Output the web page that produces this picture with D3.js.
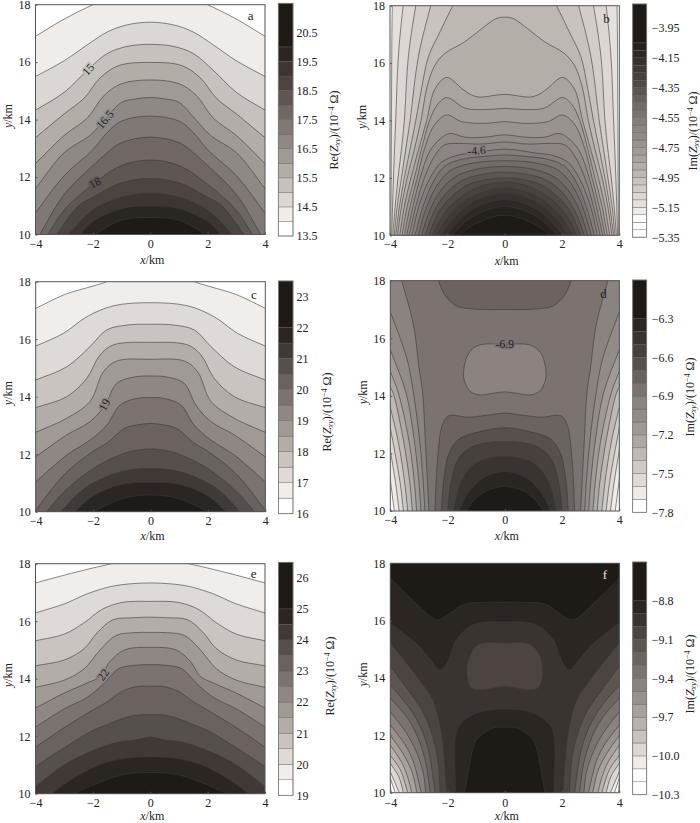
<!DOCTYPE html>
<html><head><meta charset="utf-8">
<script src="https://cdn.jsdelivr.net/npm/d3@7"></script>
<style>
html,body{margin:0;padding:0;background:#fff}
svg{display:block}
text{font-family:"Liberation Serif",serif;font-size:12px;fill:#222}
</style></head><body><svg id="c" width="700" height="823"></svg>
<script>
// ---------- axes ----------
const xTicks=[-4,-2,0,2,4];
const yTicks=[10,12,14,16,18];
// ---------- colour-bar levels and ticks ----------
const levelsA=[14,14.5,15,15.5,16,16.5,17,17.5,18,18.5,19,19.5,20];
const levelsB=[-5.3,-5.25,-5.2,-5.15,-5.1,-5.05,-5,-4.95,-4.9,-4.85,-4.8,-4.75,-4.7,-4.65,-4.6,-4.55,-4.5,-4.45,-4.4,-4.35,-4.3,-4.25,-4.2,-4.15,-4.1,-4.05];
const levelsC=[16.5,17,17.5,18,18.5,19,19.5,20,20.5,21,21.5,22];
const levelsD=[-7.7,-7.6,-7.5,-7.4,-7.3,-7.2,-7.1,-7,-6.9,-6.8,-6.7,-6.6,-6.5,-6.4,-6.3];
const levelsE=[19.5,20,20.5,21,21.5,22,22.5,23,23.5,24,24.5,25];
const levelsF=[-10.2,-10.1,-10,-9.9,-9.8,-9.7,-9.6,-9.5,-9.4,-9.3,-9.2,-9.1,-9,-8.9,-8.8];
const ticksA=[13.5,14.5,15.5,16.5,17.5,18.5,19.5,20.5];
const ticksB=[-5.35,-5.15,-4.95,-4.75,-4.55,-4.35,-4.15,-3.95];
const ticksC=[16,17,18,19,20,21,22,23];
const ticksD=[-7.8,-7.5,-7.2,-6.9,-6.6,-6.3];
const ticksE=[19,20,21,22,23,24,25,26];
const ticksF=[-10.3,-10,-9.7,-9.4,-9.1,-8.8];
// ---------- band greys, lightest to darkest ----------
const palA=["#ffffff","#efecea","#dcd7d4","#c6c1bc","#b3ada8","#a09a95","#8f8985","#7f7875","#6e6763","#5e5651","#4b4440","#3c3532","#2b2622","#1e1a16"];
const palC=["#ffffff","#f0edeb","#dfdad7","#c9c4bf","#b3ada8","#a09a95","#8e8783","#7a7370","#69625e","#55504b","#403936","#2b2622","#1e1a16"];
const palD=["#ffffff","#eeeae8","#dfdad7","#cfcac6","#bfb9b4","#aea8a3","#a09a95","#928b87","#8a8380","#7a7370","#6a635f","#57504b","#47403c","#3a3431","#2b2622","#1e1a16"];
const palF=["#ffffff","#ffffff","#eeebe8","#dcd7d4","#c8c3be","#b8b2ad","#a8a29d","#98918d","#89827e","#7a7370","#6b6460","#5c5550","#4b4440","#3a3431","#2b2622","#1e1a16"];
// ---------- contour lines: [band level, closure, left-half points [x km, y km]] ----------
const curvesA=[
[14,"b",[[-4,16.9],[-3,17.5],[-2,18],[-1,18.4],[0,18.6]]],
[14.5,"b",[[-4,15.5],[-3,16.05],[-2.2,16.6],[-1.5,17.05],[-.8,17.3],[0,17.39]]],
[15,"b",[[-4,14.33],[-3,14.95],[-2.16,15.75],[-1.5,16.3],[-.8,16.55],[0,16.62]]],
[15.5,"b",[[-4,13.37],[-3,14.2],[-2.3,14.75],[-1.75,15.45],[-1.1,15.88],[0,15.99]]],
[16,"b",[[-4,12.47],[-3,13.45],[-2.2,14.05],[-1.6,14.85],[-1,15.25],[0,15.38]]],
[16.5,"b",[[-4,11.6],[-3,12.85],[-2.1,13.45],[-1.58,14],[-1,14.6],[-.5,14.72],[0,14.77]]],
[17,"b",[[-4,10.75],[-3,12.05],[-2,12.95],[-1.5,13.55],[-1,13.95],[0,14.12]]],
[17.5,"b",[[-3.85,10],[-3,11.4],[-2,12.4],[-1.5,12.85],[-1,13.2],[0,13.39]]],
[18,"b",[[-3.56,10],[-3,10.85],[-2,11.75],[-1,12.4],[0,12.59]]],
[18.5,"b",[[-3.27,10],[-2.5,11],[-2,11.3],[-1,11.8],[0,11.95]]],
[19,"b",[[-2.86,10],[-2,10.85],[-1,11.3],[0,11.43]]],
[19.5,"b",[[-2.45,10],[-2,10.45],[-1,10.9],[0,10.99]]],
[20,"b",[[-1.93,10],[-1,10.5],[0,10.59]]]];
const curvesB=[
[-5.15,"b",[[-3.97,10],[-3.95,14],[-3.92,18],[-3.88,19],[0,19.5]]],
[-5.1,"b",[[-3.94,10],[-3.88,12],[-3.8,14],[-3.71,16.22],[-3.54,18],[-3.4,19],[0,19.5]]],
[-5.05,"b",[[-3.9,10],[-3.82,11],[-3.72,12],[-3.6,13],[-3.5,14],[-3.36,16.22],[-3.1,18],[-2.9,19],[0,19.5]]],
[-5,"b",[[-3.85,10],[-3.75,11],[-3.6,12],[-3.45,13],[-3.3,14],[-3.01,16.22],[-2.58,18],[-2.3,19],[0,19.5]]],
[-4.95,"b",[[-3.8,10],[-3.67,11],[-3.5,12],[-3.3,13],[-3.1,14],[-2.9,15.1],[-2.66,16.22],[-2.25,17.1],[-1.81,18],[-1.5,18.6],[0,19.2]]],
[-4.9,"b",[[-3.74,10],[-3.6,11],[-3.4,12],[-3.15,13],[-2.92,14],[-2.7,15.2],[-2.43,15.93],[-2.08,16.34],[-1.38,16.75],[-.8,17.2],[-.3,17.55],[0,17.6]]],
[-4.85,"b",[[-3.66,10],[-3.5,11],[-3.27,12],[-3,13],[-2.72,14],[-2.43,15.1],[-2.02,15.5],[-1.5,15.12],[-1.27,14.95],[-.92,14.82],[0,14.91]]],
[-4.8,"b",[[-3.58,10],[-3.4,11],[-3.15,12],[-2.9,13],[-2.62,14],[-2.35,14.55],[-2.02,14.8],[-1.38,14.43],[-.7,14.38],[0,14.42]]],
[-4.75,"b",[[-3.5,10],[-3.3,11],[-3.05,12],[-2.8,13],[-2.45,13.85],[-2.02,14.19],[-1.5,13.96],[-.7,13.9],[0,13.96]]],
[-4.7,"b",[[-3.42,10],[-3.2,11],[-2.95,12],[-2.6,12.95],[-2.2,13.4],[-1.9,13.55],[-1.4,13.42],[-.7,13.42],[0,13.5]]],
[-4.65,"b",[[-3.33,10],[-3.1,11],[-2.8,12],[-2.45,12.75],[-2.1,13.15],[-1.6,13.2],[-.8,13.18],[0,13.25]]],
[-4.6,"b",[[-3.23,10],[-3,11],[-2.6,12],[-2.2,12.55],[-1.6,12.8],[-1.2,12.85],[0,13]]],
[-4.55,"b",[[-3.13,10],[-2.85,11],[-2.5,11.85],[-2.1,12.4],[-1.5,12.65],[-.7,12.75],[0,12.8]]],
[-4.5,"b",[[-3.02,10],[-2.72,11],[-2.35,11.75],[-1.9,12.25],[-1.2,12.5],[0,12.6]]],
[-4.45,"b",[[-2.9,10],[-2.6,10.9],[-2.2,11.6],[-1.7,12.05],[-1,12.3],[0,12.4]]],
[-4.4,"b",[[-2.78,10],[-2.45,10.85],[-2.05,11.45],[-1.5,11.9],[-.8,12.12],[0,12.2]]],
[-4.35,"b",[[-2.65,10],[-2.3,10.8],[-1.9,11.3],[-1.3,11.75],[-.6,11.95],[0,12]]],
[-4.3,"b",[[-2.52,10],[-2.15,10.7],[-1.7,11.2],[-1.1,11.6],[-.5,11.8],[0,11.85]]],
[-4.25,"b",[[-2.38,10],[-2,10.6],[-1.5,11.1],[-1,11.42],[-.4,11.6],[0,11.65]]],
[-4.2,"b",[[-2.22,10],[-1.85,10.5],[-1.35,10.98],[-.8,11.3],[0,11.45]]],
[-4.15,"b",[[-2.05,10],[-1.65,10.45],[-1.2,10.85],[-.7,11.1],[0,11.25]]],
[-4.1,"b",[[-1.85,10],[-1.45,10.4],[-1,10.72],[-.5,10.92],[0,11]]],
[-4.05,"b",[[-1.56,10],[-1.2,10.3],[-.8,10.5],[-.3,10.67],[0,10.7]]]];
const curvesC=[
[16.5,"b",[[-4,17.07],[-3,17.55],[-2,17.85],[-1.53,18],[-1,18.25],[0,18.4]]],
[17,"b",[[-4,15.76],[-3.04,16.2],[-2.22,16.78],[-1.3,17.16],[0,17.27]]],
[17.5,"b",[[-4,14.58],[-2.92,15.04],[-2.11,15.74],[-1.53,16.32],[-.83,16.49],[0,16.52]]],
[18,"b",[[-4,13.62],[-2.92,14],[-2.22,14.64],[-1.76,15.45],[-1.3,15.8],[0,15.89]]],
[18.5,"b",[[-4,12.76],[-2.92,13.25],[-2.11,13.83],[-1.64,14.87],[-1.18,15.24],[0,15.3]]],
[19,"b",[[-4,11.91],[-2.92,12.67],[-2.11,13.13],[-1.58,13.71],[-1.18,14.46],[-.6,14.68],[0,14.72]]],
[19.5,"b",[[-4,11.04],[-2.92,11.97],[-2.11,12.49],[-1.53,13],[-1.06,13.71],[-.48,13.94],[0,13.97]]],
[20,"b",[[-4,10.05],[-3,11.3],[-2,12.1],[-1.5,12.4],[-.9,12.9],[-.4,13.03],[0,13.07]]],
[20.5,"b",[[-3.62,10],[-3,10.7],[-2,11.5],[-1,12],[-.4,12.15],[0,12.18]]],
[21,"b",[[-3.12,10],[-2.5,10.65],[-2,11],[-1,11.4],[0,11.5]]],
[21.5,"b",[[-2.63,10],[-2,10.55],[-1,10.95],[0,11.02]]],
[22,"b",[[-1.99,10],[-1,10.45],[0,10.58]]]];
const curvesD=[
[-7.7,"b",[[-3.86,10],[-4,11.1]]],
[-7.6,"b",[[-3.69,10],[-3.82,11],[-4,12.1]]],
[-7.5,"b",[[-3.54,10],[-3.66,11],[-4,12.9]]],
[-7.4,"b",[[-3.39,10],[-3.5,11],[-3.72,12.4],[-4,13.6]]],
[-7.3,"b",[[-3.23,10],[-3.32,11],[-3.55,12.5],[-3.9,14.1],[-4,14.3]]],
[-7.2,"b",[[-3.08,10],[-3.16,11],[-3.36,12.5],[-3.72,14.1],[-4,14.85]]],
[-7.1,"b",[[-2.93,10],[-3,11],[-3.17,12.5],[-3.45,14.1],[-4,15.6]]],
[-7,"b",[[-2.79,10],[-2.85,11],[-2.98,12.5],[-3.19,14.1],[-3.42,15.3],[-4,16.92]]],
[-6.9,"b",[[-2.65,10],[-2.7,11],[-2.78,12.5],[-2.87,14.1],[-3,15],[-3.19,16.46],[-3.6,18]]],
[-6.8,"b",[[-2.44,10],[-2.4,11],[-2.32,12.12],[-2.2,12.93],[-1.97,13.3],[-1.27,13.26],[-.6,13.33],[0,13.4]]],
[-6.7,"b",[[-2.22,10],[-2.14,11],[-1.95,12],[-1.6,12.5],[-.9,12.75],[0,12.89]]],
[-6.6,"b",[[-2,10],[-1.88,11],[-1.6,11.85],[-1.1,12.25],[-.5,12.38],[0,12.41]]],
[-6.5,"b",[[-1.8,10],[-1.55,10.95],[-1.15,11.55],[-.6,11.82],[0,11.89]]],
[-6.4,"b",[[-1.6,10],[-1.3,10.6],[-.8,11.12],[-.3,11.33],[0,11.37]]],
[-6.3,"b",[[-1.35,10],[-1.05,10.4],[-.6,10.72],[0,10.85]]],
[-6.8,"t",[[-2.32,18],[-2.09,17.5],[-1.68,17.12],[-.98,17.01],[0,17]]],
[-7,"o",[[0,14.14],[-.4,14.09],[-.87,14.03],[-1.2,14.15],[-1.42,14.55],[-1.42,15],[-1.25,15.5],[-.9,15.76],[0,15.79]]]];
const curvesE=[
[19.5,"b",[[-4,17.33],[-3,17.6],[-2,17.85],[-1.35,18],[-.7,18.15],[0,18.2]]],
[20,"b",[[-4,16.29],[-3,16.6],[-2.2,16.95],[-1.4,17.2],[-.7,17.3],[0,17.33]]],
[20.5,"b",[[-4,15.32],[-3,15.55],[-2.3,15.95],[-1.7,16.4],[-1,16.65],[0,16.69]]],
[21,"b",[[-4,14.45],[-3,14.65],[-2.3,15.05],[-1.85,15.6],[-1.3,16.05],[-.6,16.12],[0,16.14]]],
[21.5,"b",[[-4,13.7],[-3,13.95],[-2.3,14.35],[-1.75,15],[-1.2,15.5],[-.6,15.6],[0,15.61]]],
[22,"b",[[-4,12.98],[-3,13.5],[-2.2,13.85],[-1.75,14.08],[-1.4,14.6],[-.9,15],[0,15.09]]],
[22.5,"b",[[-4,12.32],[-3,12.95],[-2.2,13.35],[-1.6,13.85],[-1.1,14.35],[-.5,14.47],[0,14.49]]],
[23,"b",[[-4,11.62],[-3,12.3],[-2.1,12.85],[-1.5,13.2],[-1,13.55],[-.5,13.72],[0,13.74]]],
[23.5,"b",[[-4,10.95],[-3,11.6],[-2,12.2],[-1.5,12.4],[-1,12.6],[-.5,12.73],[0,12.75]]],
[24,"b",[[-4,10.25],[-3,11],[-2,11.5],[-1.1,11.8],[-.5,11.87],[0,11.97]]],
[24.5,"b",[[-3.44,10],[-2.5,10.65],[-1.5,11.1],[-.7,11.25],[0,11.28]]],
[25,"b",[[-2.68,10],[-2,10.3],[-1,10.65],[0,10.74]]]];
const curvesF=[
[-10.2,"b",[[-3.97,10],[-4,10.27]]],
[-10.1,"b",[[-3.83,10],[-4,10.5]]],
[-10,"b",[[-3.69,10],[-4,10.73]]],
[-9.9,"b",[[-3.54,10],[-3.7,10.55],[-4,11.03]]],
[-9.8,"b",[[-3.39,10],[-3.65,10.8],[-4,11.3]]],
[-9.7,"b",[[-3.25,10],[-3.38,10.5],[-3.6,11.05],[-4,11.66]]],
[-9.6,"b",[[-3.07,10],[-3.25,10.75],[-3.55,11.35],[-4,12]]],
[-9.5,"b",[[-2.92,10],[-3.2,11.1],[-3.5,11.7],[-4,12.36]]],
[-9.4,"b",[[-2.76,10],[-2.85,10.7],[-3.1,11.45],[-3.45,12.1],[-4,12.82]]],
[-9.3,"b",[[-2.61,10],[-2.75,11],[-3.05,11.95],[-3.4,12.6],[-4,13.3]]],
[-9.2,"b",[[-2.44,10],[-2.65,11.4],[-2.95,12.3],[-3.4,13.05],[-4,13.75]]],
[-9.1,"b",[[-2.26,10],[-2.32,11],[-2.5,11.9],[-2.85,12.8],[-3.4,13.6],[-4,14.41]]],
[-9,"b",[[-2.03,10],[-2.1,11],[-2.2,12],[-2.5,13.2],[-3.08,14.06],[-4,15.22]]],
[-8.9,"t",[[-4,15.92],[-3.08,15.2],[-2.6,14.65],[-2.27,14.29],[-2.03,14.52],[-1.69,15.34],[-1.22,15.8],[-.76,15.94],[0,15.95]]],
[-8.9,"b",[[-1.72,10],[-1.7,12.08],[-1.51,12.43],[-.99,12.78],[0,12.92]]],
[-8.8,"t",[[-4,17.49],[-3.2,16.7],[-2.38,16.03],[-2,16.2],[-1.45,16.56],[-.76,16.64],[0,16.64]]],
[-8.8,"b",[[-1.4,10],[-1.05,11.73],[-.87,11.97],[-.41,12.26],[0,12.28]]],
[-9.1,"o",[[0,13.71],[-.76,13.59],[-1.16,13.65],[-1.31,14],[-1.27,14.65],[-1.05,15.05],[-.76,15.22],[0,15.22]]]];
// ---------- contour labels ----------
const labelsA=[["15",-2.16,15.75,-48,15],["16.5",-1.58,14,-50,16.5],["18",-1.93,11.8,-28,18]];
const labelsB=[["-4.6",-.98,12.95,-5,-4.6]];
const labelsC=[["19",-1.6,13.72,-62,19]];
const labelsD=[["-6.9",0,15.79,0,-6.9]];
const labelsE=[["22",-1.64,14.14,-55,22]];
const labelsF=[];
// ---------- pieces ----------
const rampB=d3.piecewise(d3.interpolateRgb,palD.slice(1));
const palB=[...levelsB,0].map((_,i)=>i<3?"#ffffff":rampB((i-3)/23));
const panels=[
{id:"a",levels:levelsA,pal:palA,curves:curvesA,labels:labelsA,ticks:ticksA,top:21.5,box:[35.5,265,4.7,234.5],bar:[278.3,293,3.3,236],name:"Re",barLab:[334,130],letter:[3.5,17.62],fmt:".1f",xOff:29.5,tickPad:4.5,letterFill:"#222"},
{id:"b",levels:levelsB,pal:palB,curves:curvesB,labels:labelsB,ticks:ticksB,top:-3.79,box:[390,619.3,5.7,235.3],bar:[632.7,646.7,4,237.2],name:"Im",barLab:[693,131],letter:[3.55,17.55],fmt:".2f",xOff:29.5,tickPad:4.5,letterFill:"#222"},
{id:"c",levels:levelsC,pal:palC,curves:curvesC,labels:labelsC,ticks:ticksC,top:23.5,box:[35.7,265.3,281.7,511.7],bar:[278.5,293,281,513.7],name:"Re",barLab:[327,412],letter:[3.6,17.55],fmt:"d",xOff:28.5,tickPad:4.5,letterFill:"#222"},
{id:"d",levels:levelsD,pal:palD,curves:curvesD,labels:labelsD,ticks:ticksD,top:-6,box:[390.3,619.3,280.7,511],bar:[632.7,646.7,280,512.3],name:"Im",barLab:[690,397],letter:[3.45,17.55],fmt:".1f",xOff:28.5,tickPad:4.5,letterFill:"#222"},
{id:"e",levels:levelsE,pal:palC,curves:curvesE,labels:labelsE,ticks:ticksE,top:26.5,box:[35.5,265,563.7,793.7],bar:[278.5,293,562.3,795.3],name:"Re",barLab:[330,676],letter:[3.6,17.65],fmt:"d",xOff:26.5,tickPad:4.5,letterFill:"#222"},
{id:"f",levels:levelsF,pal:palF,curves:curvesF,labels:labelsF,ticks:ticksF,top:-8.5,box:[390.3,619.3,563.3,792.7],bar:[632.7,646.7,562,794.7],name:"Im",barLab:[690,674],letter:[3.5,17.6],fmt:".1f",xOff:27.5,tickPad:5.5,letterFill:"#e8e6e3"}];

const svg=d3.select("#c");
const minus=s=>s.replace("-","\u2212");
const textStyle=sel=>sel.style("font-family",'"Liberation Serif",serif').style("font-size","12px").style("fill","#222");
panels.forEach(p=>{
 const [L,R,T,B]=p.box;
 const x=d3.scaleLinear().domain([-4,4]).range([L,R]);
 const y=d3.scaleLinear().domain([10,18]).range([B,T]);
 const g=svg.append("g");
 g.append("clipPath").attr("id","clip"+p.id).append("rect").attr("x",L).attr("y",T).attr("width",R-L).attr("height",B-T);
 const plot=g.append("g").attr("clip-path",`url(#clip${p.id})`);
 plot.append("rect").attr("x",L).attr("y",T).attr("width",R-L).attr("height",B-T).attr("fill",p.pal[0]);
 const line=d3.line().x(d=>x(d[0])).y(d=>y(d[1])).curve(d3.curveCatmullRom.alpha(.5));
 const closedLine=d3.line().x(d=>x(d[0])).y(d=>y(d[1])).curve(d3.curveCatmullRomClosed.alpha(.5));
 const pt=(a,b)=>`${x(a)},${y(b)}`;
 const mir=a=>a.map(d=>[-d[0],d[1]]);
 const ext=(a,b)=>[a[0]+(a[0]-b[0])*.6,a[1]+(a[1]-b[1])*.6];
 const bandOf=v=>p.pal[p.levels.findIndex(l=>Math.abs(l-v)<1e-6)+1];
 p.curves.forEach(([lv,kind,pts])=>{
  let d;
  if(kind==="o"){
    d=closedLine(pts.concat(mir(pts.slice(1,-1)).reverse()));
  }else{
    const last=pts[pts.length-1], prev=pts[pts.length-2];
    const e0=ext(pts[0],pts[1]);
    const start=kind==="t"?[-6,20]:[-6,8], end=kind==="t"?[6,20]:[6,8];
    if(last[0]===0){
      const full=[e0,...pts,...mir(pts.slice(0,-1)).reverse(),[-e0[0],e0[1]]];
      d=`M${pt(...start)}L`+line(full).slice(1)+`L${pt(...end)}Z`;
    }else{
      const seg=[e0,...pts,ext(last,prev)];
      d=`M${pt(-6,8)}L`+line(seg).slice(1)+`L${pt(-6,20)}L${pt(6,20)}L`+line(mir(seg).reverse()).slice(1)+`L${pt(6,8)}Z`;
    }
  }
  plot.append("path").attr("d",d).attr("fill",bandOf(lv)).attr("stroke","#3d3a38").attr("stroke-width",.7).attr("stroke-opacity",.85);
 });
 // axes
 const ax=g.append("g").attr("transform",`translate(0,${B})`).call(d3.axisBottom(x).tickValues(xTicks).tickSize(-2).tickSizeOuter(0).tickPadding(p.tickPad).tickFormat(d=>minus(String(d))));
 const ay=g.append("g").attr("transform",`translate(${L},0)`).call(d3.axisLeft(y).tickValues(yTicks).tickSize(-2).tickSizeOuter(0).tickPadding(5).tickFormat(d=>d));
 [ax,ay].forEach(a=>{textStyle(a.selectAll("text"));a.selectAll("line").attr("stroke","#555");a.select(".domain").remove();});
 g.append("rect").attr("x",L).attr("y",T).attr("width",R-L).attr("height",B-T).attr("fill","none").attr("stroke","#555").attr("stroke-width",1);
 // contour labels
 p.labels.forEach(([t,a,b,r,v])=>{
  g.append("text").attr("transform",`translate(${x(a)},${y(b)}) rotate(${r})`).attr("text-anchor","middle").attr("dy","0.34em")
   .attr("stroke",bandOf(v)).attr("stroke-width",3).attr("paint-order","stroke").style("font-size","11.5px").text(t);
 });
 g.append("text").attr("x",x(p.letter[0])).attr("y",y(p.letter[1])).attr("text-anchor","middle").attr("dy",".35em").style("font-size","13px").style("fill",p.letterFill).text(p.id);
 // axis titles
 const xl=g.append("text").attr("x",(L+R)/2+2).attr("y",B+p.xOff).attr("text-anchor","middle");
 xl.append("tspan").style("font-style","italic").text("x");xl.append("tspan").text("/km");
 const yl=g.append("text").attr("transform",`translate(${L-27.5},${(T+B)/2-3.5}) rotate(-90)`).attr("dy",".33em").attr("text-anchor","middle");
 yl.append("tspan").style("font-style","italic").text("y");yl.append("tspan").text("/km");
 // colour bar
 const [bl,br,bt,bb]=p.bar;
 const vy=d3.scaleLinear().domain([p.ticks[0],p.top]).range([bb,bt]);
 const edges=[p.ticks[0],...p.levels,p.top];
 edges.slice(0,-1).forEach((v,i)=>{
  g.append("rect").attr("x",bl).attr("width",br-bl).attr("y",vy(edges[i+1])).attr("height",vy(v)-vy(edges[i+1])).attr("fill",p.pal[i]).attr("stroke","#555").attr("stroke-width",.5).attr("stroke-opacity",.7);
 });
 g.append("rect").attr("x",bl).attr("y",bt).attr("width",br-bl).attr("height",bb-bt).attr("fill","none").attr("stroke","#777").attr("stroke-width",.8);
 const isIm=p.name==="Im";
 const bax=g.append("g").attr("transform",`translate(${br},0)`).call(d3.axisRight(vy).tickValues(p.ticks).tickSizeOuter(0).tickSize(0).tickPadding(isIm?5:3.5).tickFormat(d=>minus(d3.format(p.fmt)(d))));
 bax.select(".domain").remove();
 bax.selectAll("line").remove();
 textStyle(bax.selectAll("text"));
 // bar title
 const tt=g.append("text").attr("transform",`translate(${p.barLab[0]},${p.barLab[1]}) rotate(-90)`).attr("dy",".33em").attr("text-anchor","middle");
 tt.append("tspan").text(p.name+"(");
 tt.append("tspan").style("font-style","italic").text("Z");
 tt.append("tspan").style("font-style","italic").style("font-size","8px").attr("dy",2.5).text("xy");
 tt.append("tspan").attr("dy",-2.5).text(")/(10");
 tt.append("tspan").style("font-size","8px").attr("dy",-4).text("\u22124");
 tt.append("tspan").attr("dy",4).text(" \u03A9)");
});
</script></body></html>
